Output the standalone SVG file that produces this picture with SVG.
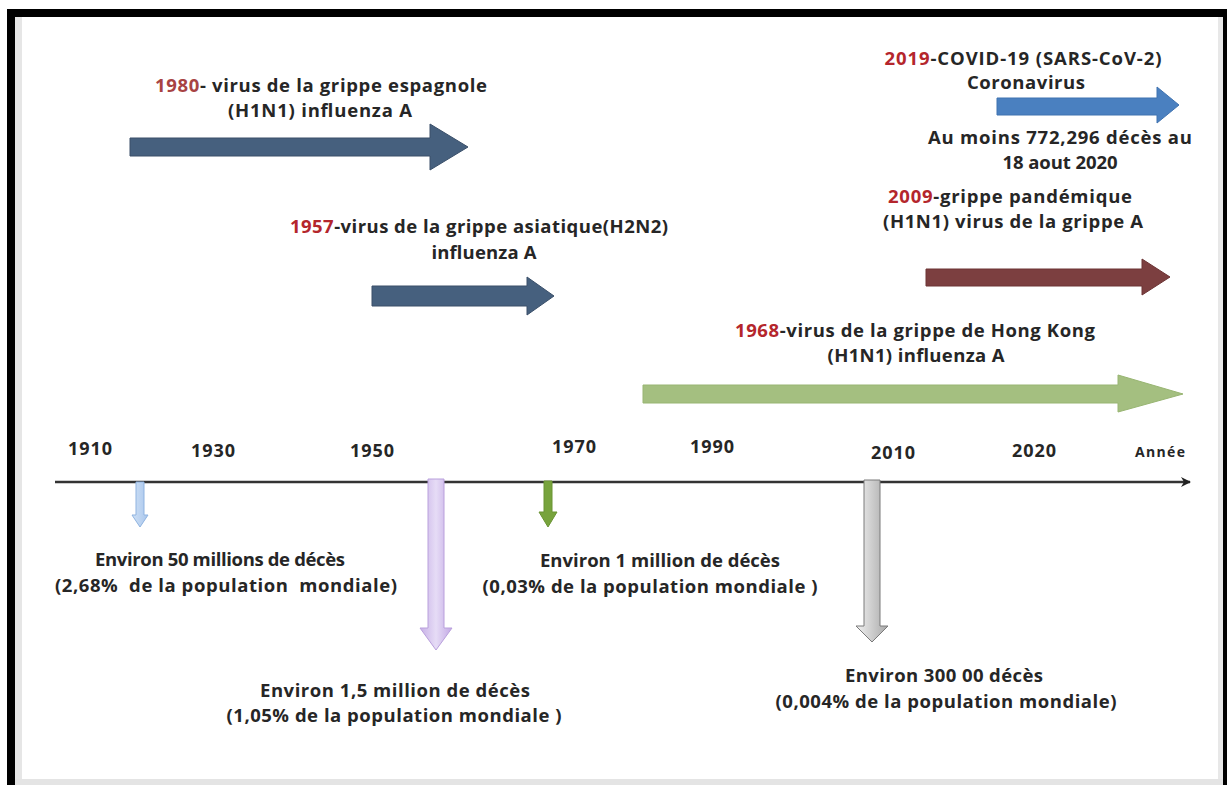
<svg xmlns="http://www.w3.org/2000/svg" width="1227" height="785" viewBox="0 0 1227 785">
<defs>
<style>
.t{font-family:"Open Sans","Liberation Sans",sans-serif;font-weight:bold;font-size:18.5px;fill:#262626;text-anchor:middle}
.y{font-family:"Open Sans","Liberation Sans",sans-serif;font-weight:bold;font-size:18px;fill:#262626;text-anchor:middle}
.r{fill:#b4262c}
</style>
<linearGradient id="gLav" x1="0" y1="0" x2="1" y2="0"><stop offset="0" stop-color="#c7b0e6"/><stop offset="0.5" stop-color="#e6dcf6"/><stop offset="1" stop-color="#c2a8e4"/></linearGradient>
<linearGradient id="gGray" x1="0" y1="0" x2="1" y2="0"><stop offset="0" stop-color="#f2f2f2"/><stop offset="1" stop-color="#a8a8a8"/></linearGradient>
<linearGradient id="gBlue" x1="0" y1="0" x2="1" y2="0"><stop offset="0" stop-color="#cfe1f6"/><stop offset="1" stop-color="#a9c6ec"/></linearGradient>
<marker id="ax" markerWidth="12" markerHeight="12" refX="10" refY="6" orient="auto" markerUnits="userSpaceOnUse"><path d="M1,1 L11,6 L1,11 L4,6 Z" fill="#222"/></marker>
</defs>
<rect width="1227" height="785" fill="#ffffff"/>
<g id="frame">
<rect x="7" y="9" width="1220" height="8" fill="#000"/>
<rect x="7" y="9" width="8" height="776" fill="#000"/>
<rect x="1223" y="9" width="4" height="776" fill="#000"/>
<rect x="15" y="17" width="7" height="768" fill="#e6e6e6"/>
<rect x="1218" y="17" width="5" height="768" fill="#e8e8e8"/>
<rect x="15" y="779" width="1208" height="6" fill="#e4e4e4"/>
</g>
<g id="connectors">
<line x1="55" y1="482" x2="1190" y2="482" stroke="#333" stroke-width="2.5" marker-end="url(#ax)"/>
</g>
<g id="arrow-1980"><polygon points="130,138 430,138 430,124 468,147 430,170 430,156 130,156" fill="#46607e" stroke="#3a4f69" stroke-width="1"/></g>
<g id="arrow-1957"><polygon points="372,286 527,286 527,277 554,296 527,315 527,306 372,306" fill="#46607e" stroke="#3a4f69" stroke-width="1"/></g>
<g id="arrow-1968"><polygon points="643,385 1118,385 1118,375 1183,394 1118,412 1118,403 643,403" fill="#a4bf80" stroke="#98b572" stroke-width="1"/></g>
<g id="arrow-2009"><polygon points="926,269 1142,269 1142,259 1170,277 1142,295 1142,286 926,286" fill="#7c3f40" stroke="#6c3435" stroke-width="1"/></g>
<g id="arrow-2019"><polygon points="997,98 1157,98 1157,87 1179,105 1157,123 1157,115 997,115" fill="#4a80c0" stroke="#3f72b0" stroke-width="1"/></g>
<g id="label-1980"><text class="t" x="321" y="92" textLength="332"><tspan fill="#a84343">1980</tspan>- virus de la grippe espagnole</text><text class="t" x="320" y="117" textLength="184">(H1N1) influenza A</text></g>
<g id="label-1957"><text class="t" x="479" y="233" textLength="378"><tspan class="r">1957</tspan>-virus de la grippe asiatique(H2N2)</text><text class="t" x="484" y="259" textLength="105">influenza A</text></g>
<g id="label-1968"><text class="t" x="915" y="337" textLength="360"><tspan class="r">1968</tspan>-virus de la grippe de Hong Kong</text><text class="t" x="916" y="362" textLength="177">(H1N1) influenza A</text></g>
<g id="label-2009"><text class="t" x="1010" y="203" textLength="244"><tspan class="r">2009</tspan>-grippe pandémique</text><text class="t" x="1013" y="228" textLength="260">(H1N1) virus de la grippe A</text></g>
<g id="label-2019"><text class="t" x="1023" y="65" textLength="277"><tspan class="r">2019</tspan>-COVID-19 (SARS-CoV-2)</text><text class="t" x="1026" y="89" textLength="118">Coronavirus</text><text class="t" x="1060" y="144" textLength="264">Au moins 772,296 décès au</text><text class="t" x="1060" y="169" textLength="115">18 aout 2020</text></g>
<g id="years">
<text class="y" x="90" y="455" textLength="44">1910</text>
<text class="y" x="213" y="457" textLength="44">1930</text>
<text class="y" x="372" y="457" textLength="44">1950</text>
<text class="y" x="574" y="453" textLength="44">1970</text>
<text class="y" x="712" y="453" textLength="44">1990</text>
<text class="y" x="893" y="459" textLength="44">2010</text>
<text class="y" x="1034" y="457" textLength="44">2020</text>
<text class="y" x="1160" y="457" style="font-size:14px" textLength="50">Année</text>
</g>
<g id="down-1918"><polygon points="136,482 144,482 144,515 148,515 140,527 132,515 136,515" fill="url(#gBlue)" stroke="#8fb3e0" stroke-width="1"/></g>
<g id="down-1957"><polygon points="428,479 444,479 444,628 452,628 436,650 420,628 428,628" fill="url(#gLav)" stroke="#b9a0dc" stroke-width="1"/></g>
<g id="down-1968"><polygon points="544,481 552,481 552,512 557,512 548,527 539,512 544,512" fill="#77a33c" stroke="#6a9433" stroke-width="1"/></g>
<g id="down-2009"><polygon points="864,480 880,480 880,626 888,626 872,642 856,626 864,626" fill="url(#gGray)" stroke="#7a7a7a" stroke-width="1"/></g>
<g id="deaths-1918"><text class="t" x="220" y="566" textLength="250">Environ 50 millions de décès</text><text class="t" x="226" y="592" xml:space="preserve" textLength="342">(2,68%  de la population  mondiale)</text></g>
<g id="deaths-1968"><text class="t" x="660" y="567" textLength="240">Environ 1 million de décès</text><text class="t" x="650" y="593" textLength="335">(0,03% de la population mondiale )</text></g>
<g id="deaths-1957"><text class="t" x="395" y="697" textLength="270">Environ 1,5 million de décès</text><text class="t" x="394" y="722" textLength="335">(1,05% de la population mondiale )</text></g>
<g id="deaths-2009"><text class="t" x="944" y="682" textLength="198">Environ 300 00 décès</text><text class="t" x="946" y="708" textLength="341">(0,004% de la population mondiale)</text></g>
</svg>
